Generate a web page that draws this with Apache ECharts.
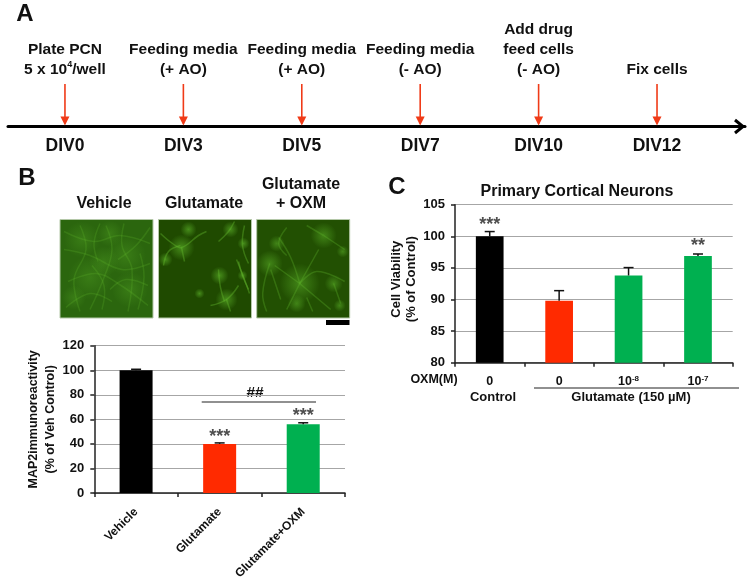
<!DOCTYPE html>
<html>
<head>
<meta charset="utf-8">
<style>
  html, body { margin: 0; padding: 0; background: #fff; }
  #main { width: 750px; height: 581px; }
</style>
<script src="https://cdn.jsdelivr.net/npm/echarts@6/dist/echarts.min.js"></script>
</head>
<body>
<div id="main"></div>
<script>
const FONT = '"Liberation Sans", Arial, sans-serif'

// panel A, timeline
const divDays = [0, 1, 2, 3, 4, 5]
const divLabels = ['DIV0', 'DIV3', 'DIV5', 'DIV7', 'DIV10', 'DIV12']
const stepLabels = [
  'Plate PCN\n5 x 10{sup|4}/well',
  'Feeding media\n(+ AO)',
  'Feeding media\n(+ AO)',
  'Feeding media\n(- AO)',
  'Add drug\nfeed cells\n(- AO)',
  'Fix cells'
]

// panel B, bars
const mapCategories = ['Vehicle', 'Glutamate', 'Glutamate+OXM']
const mapValues = [100, 40, 56]
const mapErrors = [0.8, 0.8, 1.2]
const mapStars = [null, ['***', 46], ['***', 62.4]]

// panel C, bars
const oxmDoses = ['0', '0', '10{sup|-8}', '10{sup|-7}']
const viabilityValues = [100, 89.8, 93.8, 96.9]
const viabilityErrors = [0.75, 1.6, 1.25, 0.3]
const viabilityStars = [['***', 101.8], null, null, ['**', 98.5]]

const blackBar = '#000000'
const redBar = '#ff2a00'
const greenBar = '#00b050'
const mapColors = [blackBar, redBar, greenBar]
const viabilityColors = [blackBar, redBar, greenBar, greenBar]

// micrographs, hand traced: blobs are [x, y, r], neurites are point lists, both in panel pixels
const micrographs = [
  {
    left: 60, base: '#2b660e', glow: 0.3, fibre: 0.22,
    blobs: [[22, 20, 18], [50, 14, 13], [66, 36, 20], [30, 58, 22], [70, 70, 18], [44, 42, 15], [14, 78, 12]],
    neurites: [
      [[46, 6], [52, 30], [44, 58], [30, 90]], [[4, 30], [30, 36], [62, 50], [90, 44]],
      [[8, 62], [36, 54], [58, 64], [88, 86]], [[64, 4], [62, 26], [72, 50], [68, 92]],
      [[20, 6], [26, 30], [14, 60], [20, 92]], [[4, 12], [34, 22], [60, 16], [90, 24]],
      [[32, 46], [44, 66], [42, 90]], [[58, 40], [76, 26], [90, 8]], [[6, 88], [30, 74], [52, 82]],
      [[80, 34], [84, 58], [78, 90]], [[40, 4], [34, 24], [38, 42]], [[50, 70], [66, 60], [88, 66]]
    ]
  },
  {
    left: 158.5, base: '#1f4a00', glow: 0.65, fibre: 0.4,
    blobs: [[23, 28, 13], [7, 40, 7], [61, 56, 9], [41, 74, 5], [68, 80, 11], [84, 56, 5], [72, 10, 8], [85, 24, 6], [30, 10, 8]],
    neurites: [
      [[2, 14], [14, 24], [23, 28], [40, 16], [48, 12]], [[5, 46], [10, 32], [22, 26]], [[23, 28], [26, 42]],
      [[80, 42], [84, 56], [90, 70]], [[78, 40], [86, 60], [91, 74]], [[60, 50], [62, 68], [66, 82]],
      [[52, 86], [68, 80], [80, 66]], [[60, 22], [70, 12], [76, 2]], [[68, 80], [72, 92]], [[86, 6], [84, 26], [90, 44]]
    ]
  },
  {
    left: 256.7, base: '#225002', glow: 0.55, fibre: 0.3,
    blobs: [[43, 64, 20], [13, 44, 13], [67, 16, 13], [83, 86, 6], [77, 64, 9], [20, 24, 8], [40, 84, 9], [86, 32, 6]],
    neurites: [
      [[43, 64], [30, 90]], [[43, 64], [18, 46]], [[43, 64], [62, 30]], [[43, 64], [74, 90]], [[43, 64], [60, 52], [88, 62]],
      [[43, 64], [34, 38], [22, 18]], [[67, 16], [88, 30]], [[67, 16], [50, 6]], [[13, 44], [6, 74], [10, 92]],
      [[77, 64], [84, 84]], [[30, 8], [22, 24], [30, 36]], [[50, 78], [56, 92]], [[14, 50], [24, 80]]
    ]
  }
]

const plotText = { fontFamily: FONT, fontWeight: 'bold', color: '#111' }

function micrographGraphics(panel) {
  const top = 219.5
  const out = [{
    type: 'rect', x: panel.left, y: top,
    shape: { width: 93, height: 98.5 },
    style: { fill: panel.base, stroke: '#b4c8a8', lineWidth: 1 }
  }]
  panel.blobs.forEach(b => {
    out.push({
      type: 'circle', x: panel.left, y: top,
      shape: { cx: b[0], cy: b[1], r: b[2] },
      style: {
        fill: {
          type: 'radial', x: 0.5, y: 0.5, r: 0.5,
          colorStops: [
            { offset: 0, color: 'rgba(90,175,40,' + panel.glow + ')' },
            { offset: 1, color: 'rgba(90,175,40,0)' }
          ]
        }
      }
    })
  })
  panel.neurites.forEach(n => {
    out.push({
      type: 'polyline', x: panel.left, y: top,
      shape: { points: n, smooth: 0.4 },
      style: { fill: 'none', stroke: 'rgba(100,185,45,' + panel.fibre + ')', lineWidth: 1.5 }
    })
  })
  return out
}

function label(text, x, y, size, extra) {
  return {
    type: 'text', x: x, y: y,
    style: Object.assign({
      text: text, font: 'bold ' + size + 'px ' + FONT, fill: '#111',
      align: 'center', verticalAlign: 'middle'
    }, extra || {})
  }
}

function errorItem(params, api) {
  const base = api.coord([api.value(0), api.value(1)])
  const tip = api.coord([api.value(0), api.value(2)])
  const cap = 5
  return {
    type: 'group',
    children: [
      { type: 'line', shape: { x1: base[0], y1: base[1], x2: tip[0], y2: tip[1] }, style: { stroke: '#111', lineWidth: 1.5 } },
      { type: 'line', shape: { x1: base[0] - cap, y1: tip[1], x2: base[0] + cap, y2: tip[1] }, style: { stroke: '#111', lineWidth: 1.5 } }
    ]
  }
}

function timelineItem(params, api) {
  const day = api.value(0)
  const top = api.coord([day, 1])
  const bottom = api.coord([day, 0])
  const head = 6
  return {
    type: 'group',
    children: [
      { type: 'line', shape: { x1: top[0], y1: top[1], x2: bottom[0], y2: bottom[1] - 3 }, style: { stroke: '#f03a17', lineWidth: 1.6 } },
      { type: 'polygon', shape: { points: [[bottom[0], bottom[1] - 1], [bottom[0] - 4.5, bottom[1] - head - 4], [bottom[0] + 4.5, bottom[1] - head - 4]] }, style: { fill: '#f03a17' } },
      {
        type: 'text', x: bottom[0], y: bottom[1] + 20,
        style: { text: divLabels[params.dataIndex], font: 'bold 17.5px ' + FONT, fill: '#111', align: 'center', verticalAlign: 'middle' }
      },
      {
        type: 'text', x: bottom[0], y: top[1] - 4,
        style: {
          text: stepLabels[params.dataIndex], font: 'bold 15.5px ' + FONT, fill: '#111',
          align: 'center', verticalAlign: 'bottom', lineHeight: 20,
          rich: { sup: { font: 'bold 9px ' + FONT, fill: '#111', verticalAlign: 'top', padding: [0, 0, 6, 0] } }
        }
      }
    ]
  }
}

function barAxes(gridIndex, categories, min, max, interval) {
  return {
    x: {
      type: 'category', gridIndex: gridIndex, data: categories,
      axisLine: { lineStyle: { color: '#222', width: 1.5 } },
      axisTick: { show: true, length: 4, lineStyle: { color: '#222', width: 1.5 } },
      axisLabel: Object.assign({ fontSize: 12, margin: 8, interval: 0 }, plotText)
    },
    y: {
      type: 'value', gridIndex: gridIndex, min: min, max: max, interval: interval,
      axisLine: { show: true, lineStyle: { color: '#222', width: 1.5 } },
      axisTick: { show: true, length: 4, lineStyle: { color: '#222', width: 1.5 } },
      axisLabel: Object.assign({ fontSize: 13, margin: 10 }, plotText),
      splitLine: { show: true, lineStyle: { color: '#a6a6a6', width: 1.2 } }
    }
  }
}

const mapAxes = barAxes(1, mapCategories, 0, 120, 20)
mapAxes.x.axisLabel.rotate = 45
mapAxes.x.axisLabel.margin = 17
mapAxes.y.name = 'MAP2immunoreactivity\n(% of Veh Control)'
mapAxes.y.nameLocation = 'middle'
mapAxes.y.nameGap = 35
mapAxes.y.nameTextStyle = Object.assign({ fontSize: 12.5, lineHeight: 17 }, plotText)

const viabilityAxes = barAxes(2, oxmDoses, 80, 105, 5)
viabilityAxes.x.axisLabel.margin = 12
viabilityAxes.x.axisLabel.fontSize = 12.5
viabilityAxes.x.axisLabel.rich = { sup: Object.assign({ fontSize: 8, verticalAlign: 'top', padding: [0, 0, 5, 0] }, plotText) }
viabilityAxes.y.name = 'Cell Viability\n(% of Control)'
viabilityAxes.y.nameLocation = 'middle'
viabilityAxes.y.nameGap = 29
viabilityAxes.y.nameTextStyle = Object.assign({ fontSize: 13, lineHeight: 15, padding: [0, 0, 0, 9] }, plotText)

function barSeries(axis, values, colors, errors, stars, width) {
  return [
    {
      type: 'bar', xAxisIndex: axis, yAxisIndex: axis, barWidth: width, z: 3,
      data: values.map((v, i) => ({ value: v, itemStyle: { color: colors[i] } }))
    },
    {
      type: 'custom', xAxisIndex: axis, yAxisIndex: axis, z: 4,
      renderItem: errorItem,
      encode: { x: 0, y: 2 },
      data: values.map((v, i) => [i, v, v + errors[i]])
    },
    {
      type: 'scatter', xAxisIndex: axis, yAxisIndex: axis, symbolSize: 1, z: 5,
      itemStyle: { color: 'rgba(0,0,0,0)' },
      label: {
        show: true, position: 'inside', fontFamily: FONT, fontSize: 18, fontWeight: 'bold', color: '#222',
        formatter: p => p.data[2]
      },
      data: stars.map((s, i) => (s ? [i, s[1], s[0]] : null)).filter(Boolean)
    }
  ]
}

const graphics = [
  label('A', 25, 14, 24),
  label('B', 27, 178, 24),
  label('C', 397, 187, 24),
  label('Vehicle', 104, 204, 16),
  label('Glutamate', 204, 204, 16),
  label('Glutamate', 301, 185, 16),
  label('+ OXM', 301, 204, 16),
  label('Primary Cortical Neurons', 577, 192, 16),
  label('OXM(M)', 434, 380, 12.5),
  label('Control', 493, 397, 13),
  label('Glutamate (150 µM)', 631, 397, 13),
  label('##', 255, 393, 15.5),
  { type: 'line', shape: { x1: 201.7, y1: 402, x2: 316, y2: 402 }, style: { stroke: '#222', lineWidth: 1.2 } },
  { type: 'line', shape: { x1: 534, y1: 388, x2: 739, y2: 388 }, style: { stroke: '#222', lineWidth: 1.2 } },
  { type: 'rect', shape: { x: 326, y: 320, width: 23.5, height: 5 }, style: { fill: '#000' } },
  { type: 'polyline', shape: { points: [[735, 120], [743, 126.5], [735, 133]] }, style: { fill: 'none', stroke: '#000', lineWidth: 3 } }
]
micrographs.forEach(m => micrographGraphics(m).forEach(g => graphics.push(g)))

const chart = echarts.init(document.getElementById('main'), null, { renderer: 'canvas' })
chart.setOption({
  animation: false,
  backgroundColor: '#fff',
  grid: [
    { left: 8, right: 5, top: 84, height: 42.5, outerBoundsMode: 'none' },
    { left: 94.3, top: 345.7, width: 250.7, height: 147.3, outerBoundsMode: 'none' },
    { left: 455, top: 204.7, width: 277.7, height: 158, outerBoundsMode: 'none' }
  ],
  xAxis: [
    {
      type: 'value', gridIndex: 0, min: -0.481, max: 5.743,
      axisLine: { show: true, onZero: false, lineStyle: { color: '#000', width: 3 } },
      axisTick: { show: false }, axisLabel: { show: false }, splitLine: { show: false }
    },
    mapAxes.x,
    viabilityAxes.x
  ],
  yAxis: [
    { type: 'value', gridIndex: 0, min: 0, max: 1, show: false, splitLine: { show: false } },
    mapAxes.y,
    viabilityAxes.y
  ],
  series: [
    {
      type: 'custom', xAxisIndex: 0, yAxisIndex: 0, clip: false,
      renderItem: timelineItem,
      encode: { x: 0 },
      data: divDays.map(d => [d])
    }
  ].concat(
    barSeries(1, mapValues, mapColors, mapErrors, mapStars, 33),
    barSeries(2, viabilityValues, viabilityColors, viabilityErrors, viabilityStars, 27.7)
  ),
  graphic: graphics
})
</script>
</body>
</html>
